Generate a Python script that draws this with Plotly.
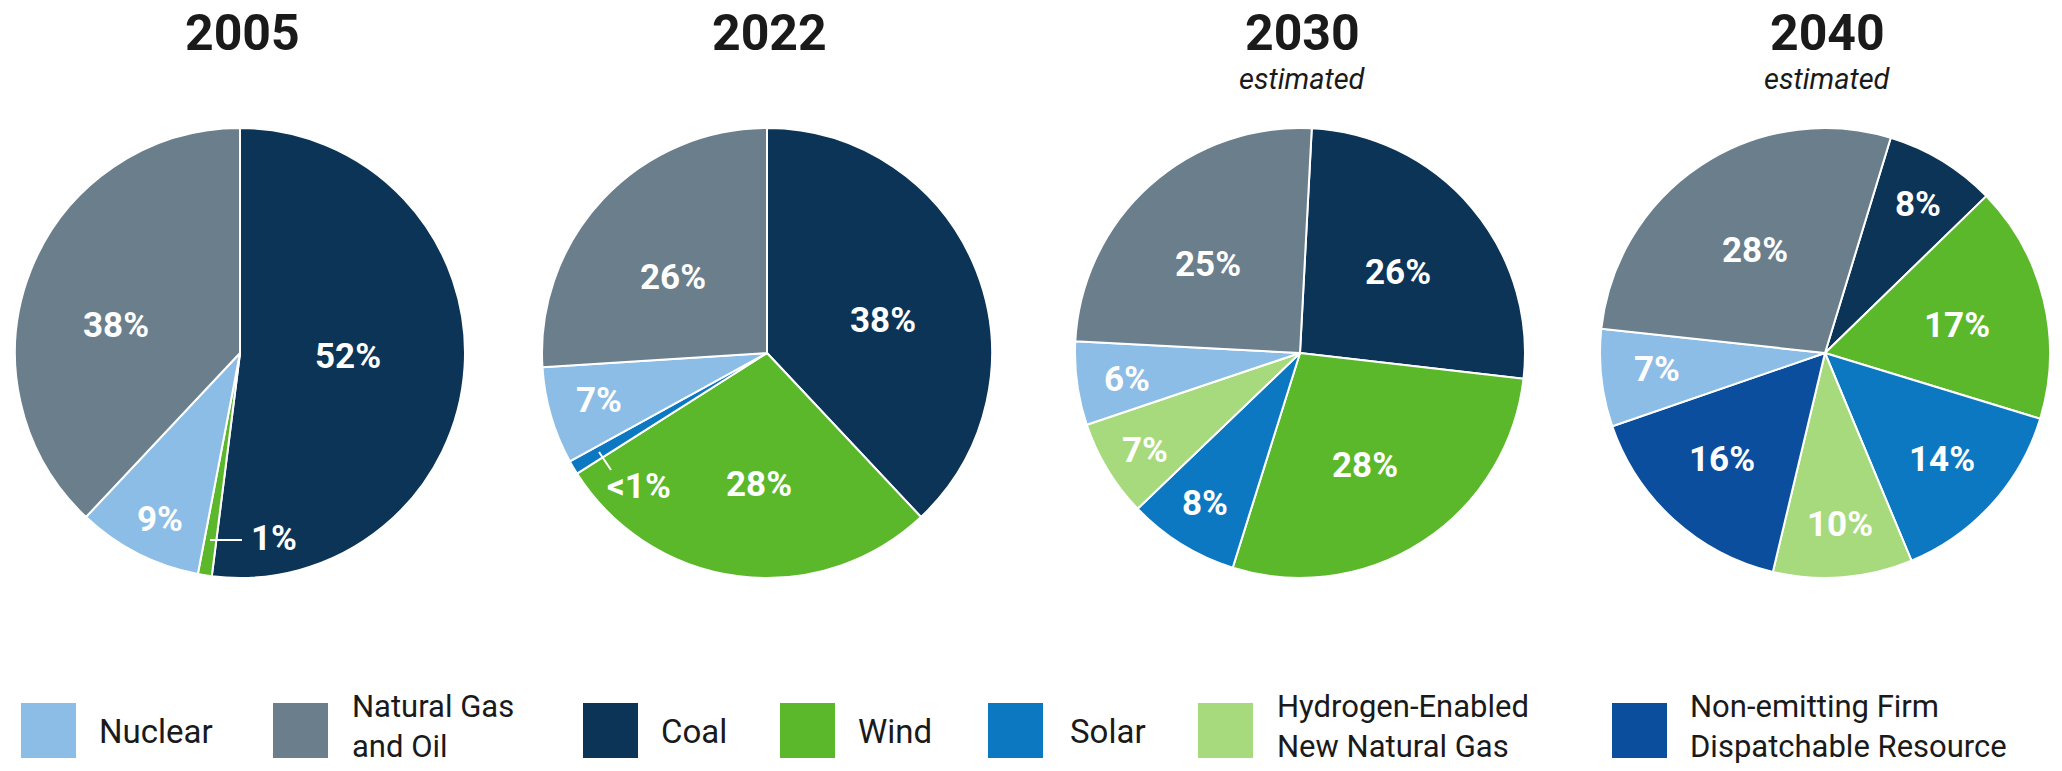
import plotly.graph_objects as go

W, H = 2062, 771

# ---------------- data ----------------
categories = ["Nuclear", "Natural Gas and Oil", "Coal", "Wind", "Solar",
              "Hydrogen-Enabled New Natural Gas",
              "Non-emitting Firm Dispatchable Resource"]
legend_lines = [["Nuclear"], ["Natural Gas", "and Oil"], ["Coal"], ["Wind"], ["Solar"],
                ["Hydrogen-Enabled", "New Natural Gas"],
                ["Non-emitting Firm", "Dispatchable Resource"]]
category_colors = ["#8BBDE6", "#6A7E8C", "#0B3457", "#5CB82B", "#0B78C1",
                   "#A7DA7C", "#0A4E9D"]

years = ["2005", "2022", "2030", "2040"]
subtitles = ["", "", "estimated", "estimated"]

labels_2005 = ["Coal", "Wind", "Nuclear", "Natural Gas and Oil"]
values_2005 = [52, 1, 9, 38]
text_2005 = ["52%", "1%", "9%", "38%"]

labels_2022 = ["Coal", "Wind", "Solar", "Nuclear", "Natural Gas and Oil"]
values_2022 = [38, 28, 1, 7, 26]
text_2022 = ["38%", "28%", "<1%", "7%", "26%"]

labels_2030 = ["Coal", "Wind", "Solar", "Hydrogen-Enabled New Natural Gas",
               "Nuclear", "Natural Gas and Oil"]
values_2030 = [26, 28, 8, 7, 6, 25]
text_2030 = ["26%", "28%", "8%", "7%", "6%", "25%"]

labels_2040 = ["Coal", "Wind", "Solar", "Hydrogen-Enabled New Natural Gas",
               "Non-emitting Firm Dispatchable Resource", "Nuclear", "Natural Gas and Oil"]
values_2040 = [8, 17, 14, 10, 16, 7, 28]
text_2040 = ["8%", "17%", "14%", "10%", "16%", "7%", "28%"]

# ---------------- layout / positions ----------------
pie_labels = [labels_2005, labels_2022, labels_2030, labels_2040]
pie_values = [values_2005, values_2022, values_2030, values_2040]
pie_texts = [text_2005, text_2022, text_2030, text_2040]
rotations = [0, 0, 3, 17]
centers_x = [240, 767, 1300, 1825]
center_y = 353
radius = 225

# label offsets (px, relative to pie centre)
label_offsets = [
    [(108, 3), (34, 185), (-80, 166), (-124, -28)],
    [(116, -33), (-8, 131), (-128, 133), (-168, 47), (-94, -76)],
    [(98, -81), (65, 112), (-95, 150), (-155, 97), (-173, 26), (-92, -89)],
    [(93, -148), (132, -28), (117, 106), (15, 171), (-103, 106), (-168, 16), (-70, -102)],
]
# leader lines for small slices (px, relative to pie centre)
leaders = [
    [((-30, 187), (2, 187))],
    [((-168, 99), (-156, 117))],
    [],
    [],
]

legend_square_x = [21, 273, 583, 780, 988, 1198, 1612]
legend_text_x = [97, 350, 659, 856, 1068, 1275, 1688]
legend_sq_top, legend_sq_size = 703, 55

color_map = dict(zip(categories, category_colors))


def px(x):
    return x / W


def py(y):
    return 1 - y / H


fig = go.Figure()
annotations = []
shapes = []

for i in range(4):
    cx = centers_x[i]
    fig.add_trace(go.Pie(
        labels=pie_labels[i],
        values=pie_values[i],
        marker=dict(colors=[color_map[l] for l in pie_labels[i]],
                    line=dict(color="white", width=2)),
        sort=False,
        direction="clockwise",
        rotation=rotations[i],
        textinfo="none",
        hovertemplate="%{label}: %{value}%<extra></extra>",
        showlegend=False,
        domain=dict(x=[px(cx - 235), px(cx + 235)],
                    y=[py(center_y + radius), py(center_y - radius)]),
    ))
    for t, (dx, dy) in zip(pie_texts[i], label_offsets[i]):
        annotations.append(dict(
            x=px(cx + dx), y=py(center_y + dy), xref="paper", yref="paper",
            text=t, showarrow=False, xanchor="center", yanchor="middle",
            font=dict(family="Roboto", size=35, color="white", weight="bold"),
        ))
    for (x0, y0), (x1, y1) in leaders[i]:
        shapes.append(dict(type="line", xref="paper", yref="paper",
                           x0=px(cx + x0), y0=py(center_y + y0),
                           x1=px(cx + x1), y1=py(center_y + y1),
                           line=dict(color="white", width=2)))
    # titles
    annotations.append(dict(
        x=px(cx + 2), y=py(33), xref="paper", yref="paper", text=years[i],
        showarrow=False, xanchor="center", yanchor="middle",
        font=dict(family="Roboto", size=50, color="#1a1a1a", weight="bold"),
    ))
    if subtitles[i]:
        annotations.append(dict(
            x=px(cx + 2), y=py(79), xref="paper", yref="paper",
            text="<i>" + subtitles[i] + "</i>",
            showarrow=False, xanchor="center", yanchor="middle",
            font=dict(family="Roboto", size=29, color="#1a1a1a"),
        ))

# custom legend
for k, cat in enumerate(categories):
    sx = legend_square_x[k]
    shapes.append(dict(type="rect", xref="paper", yref="paper",
                       x0=px(sx), x1=px(sx + legend_sq_size),
                       y0=py(legend_sq_top + legend_sq_size), y1=py(legend_sq_top),
                       fillcolor=category_colors[k], line=dict(width=0)))
    two = len(legend_lines[k]) > 1
    annotations.append(dict(
        x=px(legend_text_x[k]), y=py(726 if two else 731), xref="paper", yref="paper",
        text="<br>".join(legend_lines[k]), showarrow=False,
        xanchor="left", yanchor="middle", align="left",
        font=dict(family="Roboto", size=31 if two else 33, color="#1a1a1a"),
    ))

fig.update_layout(
    width=W, height=H,
    margin=dict(l=0, r=0, t=0, b=0),
    paper_bgcolor="white", plot_bgcolor="white",
    annotations=annotations, shapes=shapes,
    showlegend=False,
)

fig.write_html("out.html")
